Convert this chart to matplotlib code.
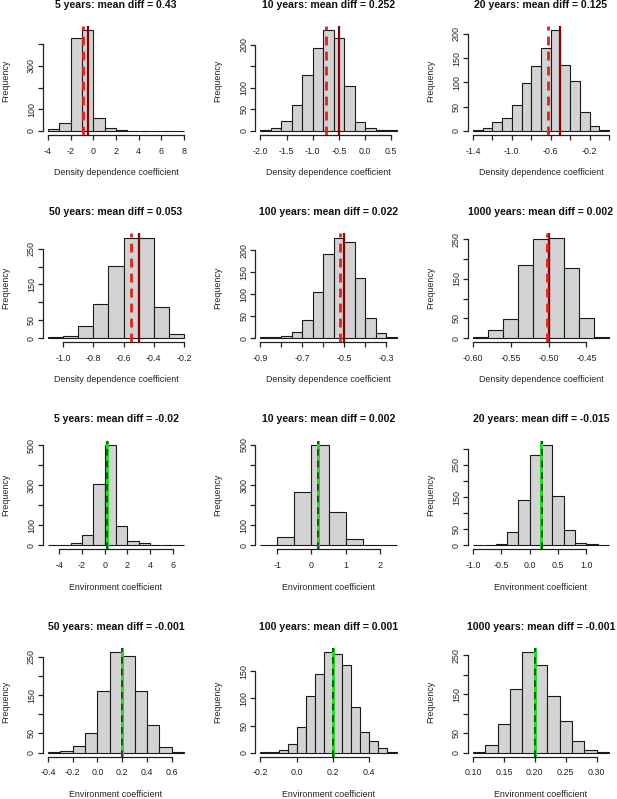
import numpy as np
import matplotlib
matplotlib.use("Agg")
import matplotlib.pyplot as plt

plt.rcParams['font.family'] = ['Liberation Sans', 'DejaVu Sans']

# ---------------- data ----------------
years = [5, 10, 20, 50, 100, 1000]

dd_true = -0.5
dd_diffs = [0.43, 0.252, 0.125, 0.053, 0.022, 0.002]
dd_starts = [-4.0, -2.0, -1.4, -1.1, -0.9, -0.60]
dd_widths = [1.0, 0.2, 0.1, 0.1, 0.05, 0.02]
dd5_counts = [8, 38, 428, 464, 60, 14, 5, 2, 1, 1, 1, 2]
dd10_counts = [3, 8, 24, 60, 129, 193, 234, 216, 105, 20, 6, 3, 2]
dd20_counts = [3, 7, 18, 27, 54, 99, 133, 170, 207, 136, 103, 38, 10, 2]
dd50_counts = [2, 5, 33, 96, 201, 281, 279, 88, 12]
dd100_counts = [2, 3, 4, 14, 41, 104, 192, 229, 219, 138, 45, 11, 2]
dd1000_counts = [3, 20, 48, 186, 251, 255, 177, 52, 4]
dd_counts = [dd5_counts, dd10_counts, dd20_counts, dd50_counts, dd100_counts, dd1000_counts]

env_true = 0.2
env_diffs = [-0.02, 0.002, -0.015, -0.001, 0.001, -0.001]
env_starts = [-5.0, -1.5, -1.0, -0.4, -0.2, 0.10]
env_widths = [1.0, 0.5, 0.2, 0.1, 0.05, 0.02]
env5_counts = [1, 3, 10, 51, 305, 503, 96, 20, 10, 4, 1, 1]
env10_counts = [3, 40, 264, 501, 164, 30, 3, 1]
env20_counts = [1, 0, 3, 41, 142, 282, 313, 154, 48, 8, 4, 1]
env50_counts = [2, 4, 16, 52, 160, 263, 252, 162, 71, 14, 2]
env100_counts = [1, 1, 4, 15, 48, 105, 146, 186, 182, 161, 85, 38, 21, 8, 1]
env1000_counts = [2, 19, 73, 164, 258, 224, 145, 81, 30, 6, 1]
env_counts = [env5_counts, env10_counts, env20_counts, env50_counts, env100_counts, env1000_counts]

# tick values and labels
dd_xticks = [
    ([-4, -2, 0, 2, 4, 6, 8], ['-4', '-2', '0', '2', '4', '6', '8']),
    ([-2.0, -1.5, -1.0, -0.5, 0.0, 0.5], ['-2.0', '-1.5', '-1.0', '-0.5', '0.0', '0.5']),
    ([-1.4, -1.2, -1.0, -0.8, -0.6, -0.4, -0.2, 0.0], ['-1.4', '', '-1.0', '', '-0.6', '', '-0.2', '']),
    ([-1.0, -0.8, -0.6, -0.4, -0.2], ['-1.0', '-0.8', '-0.6', '-0.4', '-0.2']),
    ([-0.9, -0.8, -0.7, -0.6, -0.5, -0.4, -0.3], ['-0.9', '', '-0.7', '', '-0.5', '', '-0.3']),
    ([-0.60, -0.55, -0.50, -0.45], ['-0.60', '-0.55', '-0.50', '-0.45']),
]
dd_yticks = [
    ([0, 100, 200, 300, 400], ['0', '100', '', '300', '']),
    ([0, 50, 100, 150, 200], ['0', '50', '100', '', '200']),
    ([0, 50, 100, 150, 200], ['0', '50', '100', '150', '200']),
    ([0, 50, 100, 150, 200, 250], ['0', '50', '', '150', '', '250']),
    ([0, 50, 100, 150, 200], ['0', '50', '100', '150', '200']),
    ([0, 50, 100, 150, 200, 250], ['0', '50', '', '150', '', '250']),
]
env_xticks = [
    ([-4, -2, 0, 2, 4, 6], ['-4', '-2', '0', '2', '4', '6']),
    ([-1, 0, 1, 2], ['-1', '0', '1', '2']),
    ([-1.0, -0.5, 0.0, 0.5, 1.0], ['-1.0', '-0.5', '0.0', '0.5', '1.0']),
    ([-0.4, -0.2, 0.0, 0.2, 0.4, 0.6], ['-0.4', '-0.2', '0.0', '0.2', '0.4', '0.6']),
    ([-0.2, 0.0, 0.2, 0.4], ['-0.2', '0.0', '0.2', '0.4']),
    ([0.10, 0.15, 0.20, 0.25, 0.30], ['0.10', '0.15', '0.20', '0.25', '0.30']),
]
env_yticks = [
    ([0, 100, 200, 300, 400, 500], ['0', '100', '', '300', '', '500']),
    ([0, 100, 200, 300, 400, 500], ['0', '100', '', '300', '', '500']),
    ([0, 50, 100, 150, 200, 250, 300], ['0', '50', '', '150', '', '250', '']),
    ([0, 50, 100, 150, 200, 250], ['0', '50', '', '150', '', '250']),
    ([0, 50, 100, 150], ['0', '50', '100', '150']),
    ([0, 50, 100, 150, 200, 250], ['0', '50', '', '150', '', '250']),
]

# ---------------- layout (pixels) ----------------
W, H = 617, 799
fig = plt.figure(figsize=(W / 100, H / 100), dpi=100)
col_left = [42.5, 255.0, 467.5]
ax_w = 147.0
row_bottom = [135.0, 342.2, 549.4, 756.6]
ax_h = 108.7

axcol = '#222222'


def draw_panel(ax, counts, start, width, xt, yt, title, xlabel, kind, true, est):
    counts = np.asarray(counts, dtype=float)
    n = len(counts)
    edges = start + width * np.arange(n + 1)
    ax.bar(edges[:-1], counts, width=width, align='edge', color='#d3d3d3',
           edgecolor='#1a1a1a', linewidth=0.8, zorder=2)
    x0, x1 = edges[0], edges[-1]
    r = x1 - x0
    ax.set_xlim(x0 - 0.04 * r, x1 + 0.04 * r)
    ymax = counts.max()
    ax.set_ylim(-0.04 * ymax, 1.04 * ymax)
    if kind == 'dd':
        ax.axvline(true, color='#8b0000', lw=1.6, zorder=3)
        ax.axvline(est, color='#e8201c', lw=2.0, dashes=(3.2, 2.2), zorder=4)
    else:
        ax.axvline(true, color='#22dd22', lw=2.2, zorder=3)
        ax.axvline(est, color='#1f3a1f', lw=1.2, dashes=(4, 3), zorder=4)
    for s in ['top', 'right']:
        ax.spines[s].set_visible(False)
    ax.spines['left'].set_bounds(yt[0][0], yt[0][-1])
    ax.spines['bottom'].set_bounds(xt[0][0], xt[0][-1])
    for s in ['left', 'bottom']:
        ax.spines[s].set_color(axcol)
        ax.spines[s].set_linewidth(0.9)
    ax.set_xticks(xt[0])
    ax.set_xticklabels(xt[1])
    ax.set_yticks(yt[0])
    ax.set_yticklabels(yt[1], rotation=90, va='center')
    ax.tick_params(axis='both', length=3.6, width=0.9, color=axcol,
                   labelsize=6.4, labelcolor='#222222')
    ax.tick_params(axis='x', pad=4.8)
    ax.tick_params(axis='y', pad=1.2)
    ax.patch.set_visible(False)
    ax.text(0.5, 1 + 21.3 / ax_h, title, transform=ax.transAxes, ha='center',
            va='center', fontsize=7.6, fontweight='bold', color='#111111')
    ax.text(0.5, -37.7 / ax_h, xlabel, transform=ax.transAxes, ha='center',
            va='center', fontsize=6.4, color='#222222')
    ax.text(-37.0 / ax_w, 0.5, 'Frequency', transform=ax.transAxes, ha='center',
            va='center', rotation=90, fontsize=6.4, color='#222222')


for i in range(6):
    row = i // 3
    col = i % 3
    ax = fig.add_axes([col_left[col] / W, 1 - row_bottom[row] / H, ax_w / W, ax_h / H])
    title = f"{years[i]} years: mean diff = {dd_diffs[i]}"
    draw_panel(ax, dd_counts[i], dd_starts[i], dd_widths[i], dd_xticks[i], dd_yticks[i],
               title, 'Density dependence coefficient', 'dd', dd_true, dd_true - dd_diffs[i])

for i in range(6):
    row = 2 + i // 3
    col = i % 3
    ax = fig.add_axes([col_left[col] / W, 1 - row_bottom[row] / H, ax_w / W, ax_h / H])
    title = f"{years[i]} years: mean diff = {env_diffs[i]}"
    draw_panel(ax, env_counts[i], env_starts[i], env_widths[i], env_xticks[i], env_yticks[i],
               title, 'Environment coefficient', 'env', env_true, env_true - env_diffs[i])

fig.savefig('out.png', dpi=100)
